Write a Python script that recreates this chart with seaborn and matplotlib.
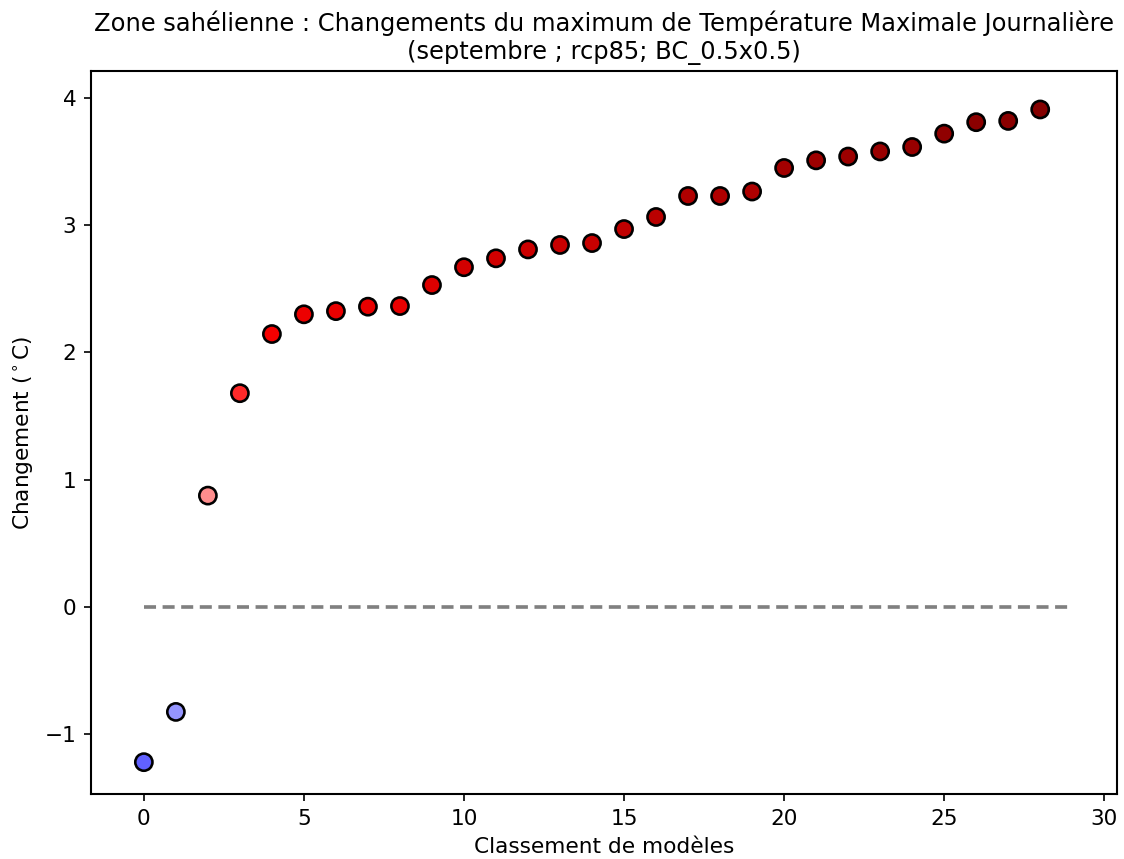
import numpy as np
import pandas as pd
import matplotlib
matplotlib.use("Agg")
import matplotlib.pyplot as plt
import seaborn as sns

# Ranked model changes (degC)
rank = list(range(29))
change = [-1.22, -0.825, 0.875, 1.68, 2.145, 2.30, 2.325, 2.36, 2.365, 2.53,
          2.67, 2.74, 2.81, 2.845, 2.86, 2.97, 3.065, 3.23, 3.23, 3.265,
          3.45, 3.51, 3.54, 3.58, 3.615, 3.72, 3.81, 3.82, 3.91]

title = ("Zone sahélienne : Changements du maximum de Température Maximale Journalière\n"
         "(septembre ; rcp85; BC_0.5x0.5)")

df = pd.DataFrame({"rank": rank, "change": change})

plt.rcParams['font.family'] = ['DejaVu Sans']
plt.rcParams['font.size'] = 10.4

fig = plt.figure(figsize=(1124 / 150, 859 / 150), dpi=150)
ax = fig.add_axes([0.081, 0.0757, 0.9128, 0.8413])

# zero reference line
ax.plot([0, len(rank)], [0, 0], color='grey', linestyle='--', linewidth=1.75,
        dashes=(3.3, 1.8), zorder=1)

sns.scatterplot(data=df, x='rank', y='change', hue='change', palette='seismic',
                hue_norm=(-4, 4), s=68, edgecolor='black', linewidth=1.25,
                legend=False, ax=ax, zorder=3)

ax.set_xlim(-1.65, 30.4)
ax.set_ylim(-1.47, 4.21)
ax.set_xticks([0, 5, 10, 15, 20, 25, 30])
ax.set_yticks([-1, 0, 1, 2, 3, 4])
ax.set_xlabel('Classement de modèles')
ax.set_ylabel(r'Changement ($^\circ$C)')
ax.set_title(title, fontsize=11.6)
for sp in ax.spines.values():
    sp.set_linewidth(1)

fig.savefig('out.png', dpi=150)
